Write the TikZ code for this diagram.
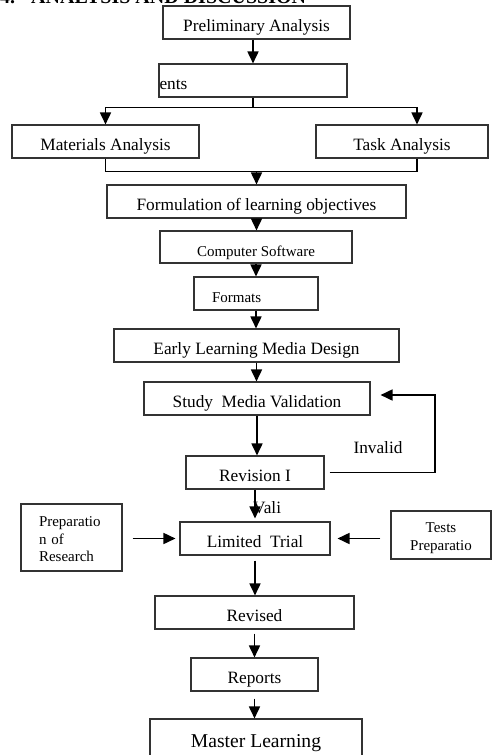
\documentclass[tikz,border=0pt]{standalone}
\usepackage{fontspec}
\setmainfont{Liberation Serif}
\usetikzlibrary{arrows.meta,calc}

\begin{document}
\begin{tikzpicture}[x=1pt, y=-1pt, >={Triangle[length=12pt,width=11pt]},
		every box/.style={draw=black!80, line width=1.1pt, inner sep=0pt, minimum height=33pt,
			text height=19pt, text depth=1pt, font=\fontsize{17.3}{20}\selectfont},
		small box/.style={font=\fontsize{15}{18}\selectfont},
		note box/.style={draw=black!80, line width=1.1pt, inner sep=0pt,
			font=\fontsize{15}{17.5}\selectfont},
		flow/.style={->, line width=1.7pt},
		link/.style={line width=1.7pt}
		]
		
		\useasboundingbox (0,0) rectangle (492,755);
		\clip (0,0) rectangle (492,755);
		
		\node [anchor=base west, inner sep=0pt, font=\bfseries\fontsize{20}{24}\selectfont] (title) at (0,3.5) {4.\hspace{16pt}ANALYSIS AND DISCUSSION};
		
		\node [every box, minimum width=187pt] (prelim) at (256.5,22.5) {Preliminary Analysis};
		\node [every box, minimum width=188pt, text width=187pt, align=left] (needs) at (253,80.5) {ents};
		\node [every box, minimum width=187pt] (materials) at (105.5,141.5) {Materials Analysis};
		\node [every box, minimum width=172pt] (task) at (402,141.5) {Task Analysis};
		\node [every box, minimum width=299pt] (formulation) at (256.5,201.5) {Formulation of learning objectives};
		\node [every box, small box, minimum width=192pt, minimum height=32pt] (software) at (256,247) {Computer Software};
		\node [every box, small box, minimum width=124pt, text width=124pt, align=left] (formats) at (256,293.5) {\hspace*{18pt}Formats};
		\node [every box, minimum width=285pt] (early) at (256.5,345.5) {Early Learning Media Design};
		\node [every box, minimum width=226pt] (study) at (257,398.5) {Study\ \ Media Validation};
		\node [every box, minimum width=138pt] (revision) at (255,472.5) {Revision I};
		\node [every box, minimum width=150pt] (trial) at (255,538.5) {Limited\ \ Trial};
		\node [note box, minimum width=101pt, minimum height=67pt, text width=65pt, align=left] (prep) at (71.5,537.5) {\rule{0pt}{14pt}Preparatio\\n of\\Research};
		\node [note box, minimum width=100pt, minimum height=48pt, align=center] (tests) at (441,535) {\rule{0pt}{16pt}Tests\\Preparatio};
		\node [every box, minimum width=199pt] (revised) at (254.5,612.5) {Revised};
		\node [every box, minimum width=127pt] (reports) at (254.5,674.5) {Reports};
		\node [every box, minimum width=212pt, minimum height=38pt, font=\fontsize{19.6}{22}\selectfont] (master) at (256,738) {Master Learning};
		
		\node [inner sep=0pt, font=\fontsize{17.3}{20}\selectfont] (invalid) at (378,448) {Invalid};
		\node [anchor=west, inner sep=0pt, font=\fontsize{17.3}{20}\selectfont] (valid) at (253,508) {Vali};
		
		% split to the two analyses
		\draw [flow] (needs.north |- prelim.south) -- (needs.north);
		\draw [link] (needs.south) -- ++(0,10) coordinate (split);
		\draw [flow] (split) -| (materials.north);
		\draw [flow] (split) -| ($(task.north)+(15,0)$);
		
		% join again
		\draw [link] (materials.south) -- ++(0,13) coordinate (join) -| ($(task.south)+(15,0)$);
		\draw [flow] (join -| formulation.north) -- (formulation.north);
		
		\foreach \a/\b in {formulation/software, software/formats, formats/early, early/study, study/revision}
		\draw [flow] (\a.south) -- (\a.south |- \b.north);
		
		\draw [flow, shorten >=3pt] (revision.south) -- (trial.north);
		\coordinate (loop) at (435,395);
		\draw [flow, shorten <=5pt, shorten >=10pt] (revision.east) -| (loop) -- (study.east |- loop);
		
		\draw [flow, shorten <=10pt, shorten >=4pt] (prep.east |- trial.west) -- (trial.west);
		\draw [flow, shorten <=10pt, shorten >=7pt] (tests.west |- trial.east) -- (trial.east);
		
		\foreach \a/\b/\s in {trial/revised/5, revised/reports/4, reports/master/7}
		\draw [flow, shorten <=\s pt] (\a.south) -- (\a.south |- \b.north);
		
	\end{tikzpicture}
\end{document}
